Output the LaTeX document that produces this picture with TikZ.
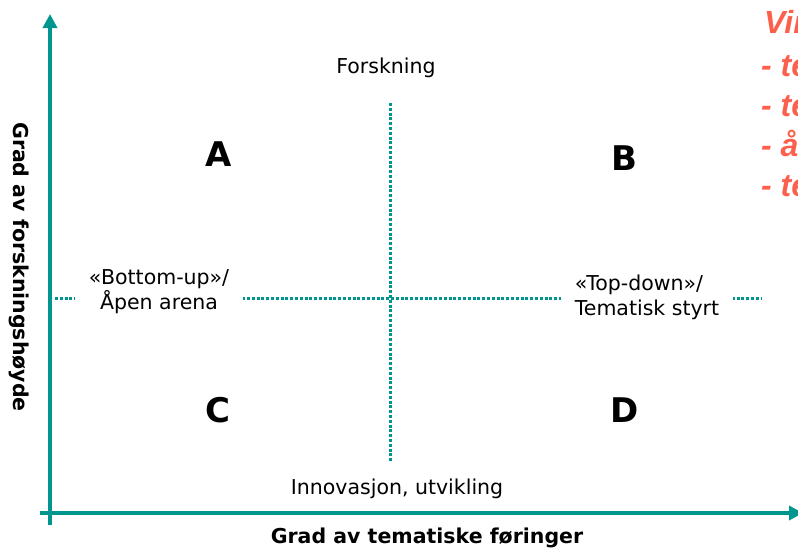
\documentclass[tikz,border=0pt]{standalone}
\usepackage{fontspec}
\setmainfont{DejaVu Sans}
\newfontfamily\redfont{Liberation Sans}
\usetikzlibrary{arrows.meta}
\definecolor{axisteal}{RGB}{0,150,143}
\definecolor{vired}{RGB}{252,96,76}
\begin{document}
\begin{tikzpicture}[x=1pt,y=-1pt,
  axis/.style={draw=axisteal,line width=3.5pt},
  divider/.style={draw=axisteal,line width=3pt,dash pattern=on 3pt off 1.8pt},
  quad/.style={font=\fontsize{34}{34}\selectfont\bfseries,anchor=center},
  lbl/.style={font=\fontsize{20.5}{25}\selectfont,align=center},
  axlbl/.style={font=\fontsize{20.5}{24}\selectfont\bfseries},
  redline/.style={font=\fontsize{32}{32}\redfont\bfseries\itshape,text=vired,anchor=base west,inner sep=0pt}]
\useasboundingbox (0,0) rectangle (798,550);
\begin{scope}
\clip (0,0) rectangle (798,550);
% axes
\coordinate (ybot) at (50,525);
\coordinate (ytop) at (50,14);
\coordinate (xleft) at (40,513);
\coordinate (xright) at (803,513);
\draw[axis,-{Triangle[length=14pt,width=14pt]}] (ybot) -- (ytop);
\draw[axis,-{Triangle[length=14pt,width=14pt]}] (xleft) -- (xright);
% dividers
\coordinate (vtop) at (390.5,103);
\coordinate (vbot) at (390.5,462);
\coordinate (hleft) at (55,298);
\coordinate (hright) at (762,298);
\draw[divider] (vtop) -- (vbot);
\draw[divider] (hleft) -- (hright);
% labels
\node[lbl] (forsk) at (386,68) {Forskning};
\node[lbl] (innov) at (397,489) {Innovasjon, utvikling};
\node[lbl,fill=white,inner xsep=14pt] (bottom) at (159,292) {«Bottom-up»/\\Åpen arena};
\node[lbl,fill=white,align=left,inner xsep=14pt] (top) at (647,297) {«Top-down»/\\Tematisk styrt};
\node[quad] (A) at (219,154) {A};
\node[quad] (B) at (624,158) {B};
\node[quad] (C) at (218,410) {C};
\node[quad] (D) at (625,410) {D};
\node[axlbl] (xlab) at (427,538) {Grad av tematiske føringer};
\node[axlbl,rotate=-90] (ylab) at (19,267) {Grad av forskningshøyde};
% red list
\node[redline] (r0) at (764,33) {Vir};
\node[redline] (r1) at (761,76) {- te};
\node[redline] (r2) at (761,116) {- te};
\node[redline] (r3) at (761,156) {- å};
\node[redline] (r4) at (761,196) {- te};
\end{scope}
\end{tikzpicture}
\end{document}
